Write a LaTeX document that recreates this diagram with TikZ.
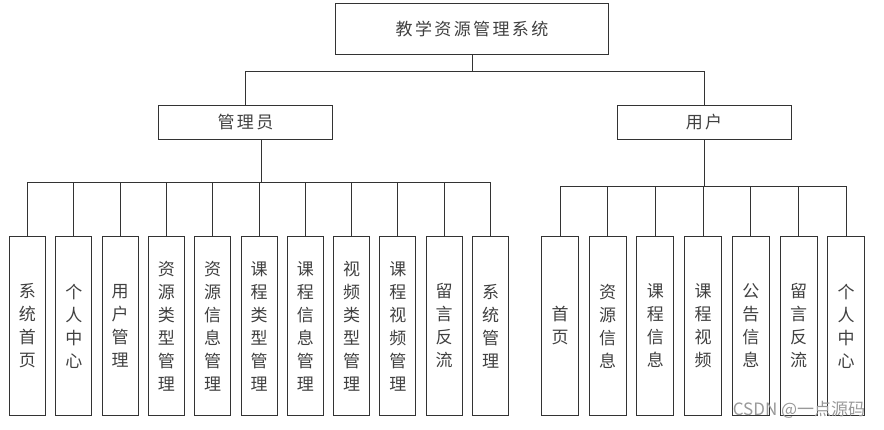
\documentclass[tikz,border=0pt]{standalone}
\usepackage{fontspec}
\setmainfont{Noto Sans CJK SC}
\usepackage{tikz}

\begin{document}
\begin{tikzpicture}
[x=1pt,y=-1pt]
\tikzset{top/.style={draw=black!80,line width=.9pt,inner sep=0pt,text=black!75,
  font=\fontsize{17}{20}\selectfont\addfontfeature{LetterSpace=14}}}
\tikzset{leaf/.style={draw=black!80,line width=.9pt,inner sep=0pt,minimum height=179pt,
  align=center,text=black!75,font=\fontsize{17}{23}\selectfont}}
\tikzset{link/.style={draw=black!80,line width=.9pt}}
\useasboundingbox (0,0) rectangle (884,429);

\node [top,minimum width=273pt,minimum height=51pt] (root) at (472,28.5) {教学资源管理系统};
\node [top,minimum width=174pt,minimum height=34pt] (admin) at (245.5,122) {管理员};
\node [top,minimum width=174pt,minimum height=34pt] (user) at (704,122) {用户};

% admin side
\node [leaf,minimum width=36pt] (a1) at (27.5,326) {系\\统\\首\\页};
\node [leaf,minimum width=36pt] (a2) at (73.8,326) {个\\人\\中\\心};
\node [leaf,minimum width=36pt] (a3) at (120.1,326) {用\\户\\管\\理};
\node [leaf,minimum width=36pt] (a4) at (166.4,326) {资\\源\\类\\型\\管\\理};
\node [leaf,minimum width=36pt] (a5) at (212.7,326) {资\\源\\信\\息\\管\\理};
\node [leaf,minimum width=36pt] (a6) at (259,326) {课\\程\\类\\型\\管\\理};
\node [leaf,minimum width=36pt] (a7) at (305.3,326) {课\\程\\信\\息\\管\\理};
\node [leaf,minimum width=36pt] (a8) at (351.6,326) {视\\频\\类\\型\\管\\理};
\node [leaf,minimum width=36pt] (a9) at (397.9,326) {课\\程\\视\\频\\管\\理};
\node [leaf,minimum width=36pt] (a10) at (444.2,326) {留\\言\\反\\流};
\node [leaf,minimum width=36pt] (a11) at (490.5,326) {系\\统\\管\\理};

% user side
\node [leaf,minimum width=37pt] (u1) at (560,326) {首\\页};
\node [leaf,minimum width=37pt] (u2) at (607.7,326) {资\\源\\信\\息};
\node [leaf,minimum width=37pt] (u3) at (655.4,326) {课\\程\\信\\息};
\node [leaf,minimum width=37pt] (u4) at (703.1,326) {课\\程\\视\\频};
\node [leaf,minimum width=37pt] (u5) at (750.8,326) {公\\告\\信\\息};
\node [leaf,minimum width=37pt] (u6) at (798.5,326) {留\\言\\反\\流};
\node [leaf,minimum width=37pt] (u7) at (846.2,326) {个\\人\\中\\心};

\coordinate (rbus) at (472,71.5);
\coordinate (abus) at (261,182);
\coordinate (ubus) at (704,186.5);

\draw [link] (root) -- (rbus);
\draw [link] (rbus) -| (admin);
\draw [link] (rbus) -| (user);
\draw [link] (abus |- admin.south) -- (abus);
\draw [link] (user) -- (ubus);

\foreach \to in {a1,a2,a3,a4,a5,a6,a7,a8,a9,a10,a11}
	\draw [link] (abus) -| (\to);
\foreach \to in {u1,u2,u3,u4,u5,u6,u7}
	\draw [link] (ubus) -| (\to);

\node [text=black!40,inner sep=0pt,font=\fontsize{17}{18}\selectfont] (mark) at (799,410) {CSDN @一点源码};

\end{tikzpicture}
\end{document}
